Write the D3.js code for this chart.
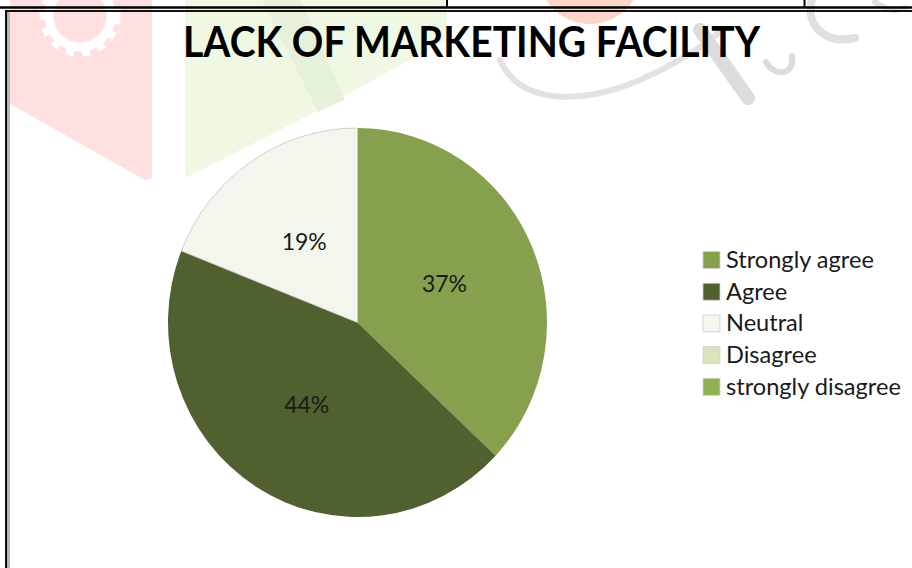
<!DOCTYPE html>
<html>
<head>
<meta charset="utf-8">
<script src="https://cdn.jsdelivr.net/npm/d3@7"></script>
<style>
  html, body { margin: 0; padding: 0; background: #fff; }
  svg { display: block; }
</style>
</head>
<body>
<svg id="chart" width="912" height="568"></svg>
<script>
// ---- data ----
const title = "LACK OF MARKETING FACILITY";
const categories = ["Strongly agree", "Agree", "Neutral", "Disagree", "strongly disagree"];
const values = [37, 44, 19, 0, 0];
const labels = ["37%", "44%", "19%", "", ""];
const colors = ["#86A04E", "#50602F", "#F3F6EC", "#D7E4BC", "#8FB154"];

const svg = d3.select("#chart");
const W = 912, H = 568;

// ---- faint watermark background ----
const wm = svg.append("g").attr("class", "watermark");
wm.append("path").attr("d", "M0,0 L152,0 L152,178 L145,180 L10,104 L10,0 Z").attr("fill", "#FFE0E0");
wm.append("circle").attr("cx", 80).attr("cy", 16).attr("r", 31).attr("fill", "none")
  .attr("stroke", "#fff").attr("stroke-width", 9);
wm.append("circle").attr("cx", 80).attr("cy", 16).attr("r", 37).attr("fill", "none")
  .attr("stroke", "#fff").attr("stroke-width", 7).attr("stroke-dasharray", "8 8");
wm.append("path").attr("d", "M185,0 L447,0 L447,40 L300,120 L185,178 Z").attr("fill", "#EEF8E3");
wm.append("path").attr("d", "M262,0 L300,0 L345,100 L318,112 Z").attr("fill", "#E5F1DA");
wm.append("circle").attr("cx", 590).attr("cy", -28).attr("r", 52).attr("fill", "#FBD5C7");
wm.append("path").attr("d", "M500,60 C520,105 580,105 640,80 C680,62 705,45 722,30")
  .attr("fill", "none").attr("stroke", "#E2E2E2").attr("stroke-width", 6).attr("stroke-linecap", "round");
wm.append("path").attr("d", "M700,30 L748,98").attr("fill", "none")
  .attr("stroke", "#DCDCDC").attr("stroke-width", 14).attr("stroke-linecap", "round");
wm.append("path").attr("d", "M766,62 C775,78 795,75 792,56").attr("fill", "none")
  .attr("stroke", "#DCDCDC").attr("stroke-width", 6).attr("stroke-linecap", "round");
wm.append("path").attr("d", "M812,0 C805,25 825,45 855,38").attr("fill", "none")
  .attr("stroke", "#E0E0E0").attr("stroke-width", 8).attr("stroke-linecap", "round");
wm.append("path").attr("d", "M875,2 C885,10 895,12 905,8").attr("fill", "none")
  .attr("stroke", "#E2E2E2").attr("stroke-width", 6).attr("stroke-linecap", "round");

// ---- frame lines ----
const frame = svg.append("g").attr("class", "frame");
frame.append("line").attr("x1", 0).attr("x2", W).attr("y1", 7.5).attr("y2", 7.5).attr("stroke", "#000").attr("stroke-width", 2.5);
frame.append("line").attr("x1", 5).attr("x2", W).attr("y1", 11).attr("y2", 11).attr("stroke", "#111").attr("stroke-width", 2);
frame.append("line").attr("x1", 447).attr("x2", 447).attr("y1", 0).attr("y2", 7).attr("stroke", "#000").attr("stroke-width", 2);
frame.append("line").attr("x1", 804.5).attr("x2", 804.5).attr("y1", 0).attr("y2", 7).attr("stroke", "#000").attr("stroke-width", 2);
frame.append("line").attr("x1", 6.2).attr("x2", 6.2).attr("y1", 10).attr("y2", H).attr("stroke", "#000").attr("stroke-width", 2.2);
frame.append("line").attr("x1", 9).attr("x2", 9).attr("y1", 12).attr("y2", H).attr("stroke", "#9a9a9a").attr("stroke-width", 1.4);

// ---- title ----
svg.append("text")
  .attr("x", 471.5).attr("y", 57)
  .attr("text-anchor", "middle")
  .attr("font-family", "Lato, 'Open Sans', sans-serif")
  .attr("font-weight", "bold")
  .attr("font-size", 42)
  .attr("textLength", 577)
  .attr("lengthAdjust", "spacingAndGlyphs")
  .attr("fill", "#000")
  .text(title);

// ---- pie ----
const cx = 357.5, cy = 322.5, rx = 189.5, ry = 194.5, R = 192;
const pie = d3.pie().sort(null).value(d => d.value);
const data = categories.map((c, i) => ({ name: c, value: values[i], label: labels[i], color: colors[i] }));
const arcs = pie(data);
const arc = d3.arc().innerRadius(0).outerRadius(R);
const labelArc = d3.arc().innerRadius(R * 0.5).outerRadius(R * 0.5);

const pg = svg.append("g").attr("transform", `translate(${cx},${cy}) scale(${rx / R},${ry / R})`);
pg.selectAll("path.slice").data(arcs.filter(a => a.data.value > 0)).join("path")
  .attr("class", "slice")
  .attr("d", arc)
  .attr("fill", d => d.data.color)
  .attr("stroke", d => d.data.name === "Neutral" ? "#c4c4c4" : "none")
  .attr("stroke-width", 0.8);

svg.append("g").selectAll("text").data(arcs.filter(a => a.data.value > 0)).join("text")
  .attr("x", d => cx + labelArc.centroid(d)[0] * rx / R)
  .attr("y", d => cy + labelArc.centroid(d)[1] * ry / R + 8)
  .attr("text-anchor", "middle")
  .attr("font-family", "Lato, 'Open Sans', sans-serif")
  .attr("font-size", 23)
  .attr("fill", "#1a1a1a")
  .text(d => d.data.label);

// ---- legend ----
const ly = d3.scalePoint().domain(categories).range([260, 386.8]);
const lg = svg.append("g").attr("class", "legend");
const items = lg.selectAll("g").data(data).join("g")
  .attr("transform", d => `translate(703,${ly(d.name)})`);
items.append("rect")
  .attr("x", 0).attr("y", -8.5).attr("width", 17).attr("height", 17)
  .attr("fill", d => d.color)
  .attr("stroke", "#d0d0d0").attr("stroke-width", 0.8);
items.append("text")
  .attr("x", 23).attr("y", 8)
  .attr("font-family", "Lato, 'Open Sans', sans-serif")
  .attr("font-size", 23.6)
  .attr("fill", "#1a1a1a")
  .text(d => d.name);
</script>
</body>
</html>
